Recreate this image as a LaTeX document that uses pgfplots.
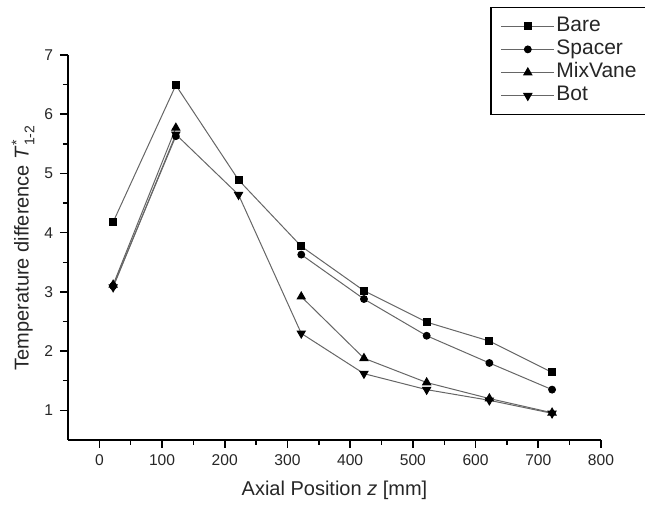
\documentclass[border=0pt]{standalone}
\usepackage{fontspec}
\setmainfont{Liberation Sans}
\usepackage{pgfplots}
\pgfplotsset{compat=1.18}
\begin{document}
\begin{tikzpicture}
\path[use as bounding box, clip] (-34pt,-33pt) rectangle (288.5pt,220pt);
\begin{axis}[
  at={(0pt,0pt)}, anchor=south west,
  scale only axis, width=266.5pt, height=192.5pt,
  xmin=-50, xmax=800, ymin=0.5, ymax=7,
  clip=false,
  axis x line*=bottom, axis y line*=left,
  axis line style={-, line width=0.7pt, black},
  xtick={0,100,...,800}, ytick={1,2,...,7},
  minor xtick={50,150,...,750}, minor ytick={1.5,2.5,...,6.5},
  tick align=outside,
  major tick length=4pt, minor tick length=2.5pt,
  major tick style={draw=black, line width=0.8pt},
  minor tick style={draw=black, line width=0.7pt},
  tick label style={font=\fontsize{7.8}{9}\selectfont, text=black!85},
  /pgf/number format/assume math mode=true,
  xlabel={Axial Position \textit{z} [mm]},
  ylabel={Temperature difference \textit{T}$^{\mbox{\scriptsize *}}_{\mbox{\scriptsize 1-2}}$},
  label style={font=\fontsize{10}{12}\selectfont, text=black!85},
  xlabel style={at={(axis description cs:0.5,-0.13)}, anchor=center},
  ylabel style={at={(axis description cs:-0.0844,0.5)}, anchor=center},
  unbounded coords=jump,
  legend cell align=left,
  legend style={at={(rel axis cs:0.792,1.125)}, anchor=north west, draw=black, line width=0.7pt,
    font=\fontsize{10.5}{11.7}\selectfont, inner xsep=5pt, inner ysep=3.5pt, row sep=0pt,
    nodes={inner sep=0.8pt, text height=7.6pt, text depth=2.4pt, text=black!85}},
  legend image code/.code={\draw[mark repeat=2,mark phase=2] plot coordinates {(0pt,0pt)(13.25pt,0pt)(26.5pt,0pt)};},
]
\addplot[line width=0.5pt, color=black!60, mark=square*, mark size=1.75pt, mark options={solid, fill=black, draw=black}]
  coordinates {(22,4.18)(122,6.49)(222,4.89)(322,3.77)(422,3.02)(522,2.49)(622,2.17)(722,1.64)};
\addlegendentry{Bare}
\addplot[line width=0.5pt, color=black!60, mark=*, mark size=1.7pt, mark options={solid, fill=black, draw=black}]
  coordinates {(22,3.10)(122,5.63)(222,nan)(322,3.63)(422,2.88)(522,2.26)(622,1.80)(722,1.35)};
\addlegendentry{Spacer}
\addplot[line width=0.5pt, color=black!60, mark=triangle*, mark size=2.3pt, mark options={solid, fill=black, draw=black}]
  coordinates {(22,3.12)(122,5.77)(222,nan)(322,2.92)(422,1.88)(522,1.47)(622,1.20)(722,0.96)};
\addlegendentry{MixVane}
\addplot[line width=0.5pt, color=black!60, mark=triangle*, mark size=2.3pt, mark options={solid, fill=black, draw=black, rotate=180}]
  coordinates {(22,3.08)(122,5.66)(222,4.64)(322,2.30)(422,1.62)(522,1.35)(622,1.17)(722,0.95)};
\addlegendentry{Bot}
\end{axis}
\end{tikzpicture}
\end{document}
